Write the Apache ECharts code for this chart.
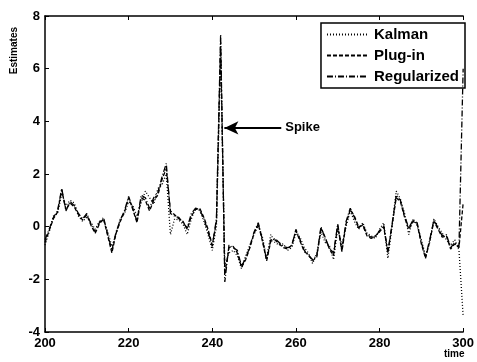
<!DOCTYPE html>
<html>
<head>
<meta charset="utf-8">
<script src="https://cdn.jsdelivr.net/npm/echarts@6/dist/echarts.min.js"></script>
<style>
  html, body { margin: 0; padding: 0; background: #fff; }
  #chart { width: 477px; height: 362px; }
</style>
</head>
<body>
<div id="chart"></div>
<script>
// time steps 200..300
var times = []
for (var t = 200; t <= 300; t++) times.push(t)

var regularized = [
  -0.5, -0.1, 0.35, 0.6, 1.45, 0.6, 0.95, 0.8, 0.5, 0.3,
  0.5, 0.1, -0.2, 0.15, 0.35, -0.3, -0.9, -0.2, 0.25, 0.6,
  1.15, 0.7, 0.2, 1.2, 1.1, 0.7, 1.1, 1.3, 1.9, 2.4,
  0.5, 0.4, 0.35, 0.15, -0.05, 0.5, 0.7, 0.65, 0.3, -0.2,
  -0.75, 0.3, 7.3, -2.1, -0.7, -0.8, -0.9, -1.5, -1.2, -0.75,
  -0.2, 0.15, -0.5, -1.25, -0.5, -0.45, -0.6, -0.75, -0.8, -0.75,
  -0.1, -0.5, -0.9, -1.1, -1.25, -1.1, 0.0, -0.45, -0.8, -1.0,
  0.1, -0.9, 0.2, 0.7, 0.35, -0.05, 0.1, -0.3, -0.4, -0.4,
  -0.15, 0.05, -0.95, 0.1, 1.2, 1.0, 0.4, -0.05, 0.25, 0.15,
  -0.6, -1.15, -0.5, 0.25, -0.05, -0.35, -0.3, -0.8, -0.6, -0.75,
  6.0
]
var plugIn = [
  -0.6, -0.15, 0.3, 0.55, 1.4, 0.65, 0.9, 0.75, 0.45, 0.25,
  0.45, 0.05, -0.25, 0.1, 0.3, -0.35, -1.0, -0.25, 0.2, 0.55,
  1.1, 0.65, 0.15, 1.1, 1.0, 0.6, 1.0, 1.2, 1.8, 2.2,
  0.6, 0.45, 0.3, 0.2, -0.1, 0.4, 0.65, 0.7, 0.35, -0.1,
  -0.7, 0.2, 7.0, -1.8, -0.8, -0.75, -1.0, -1.55, -1.25, -0.8,
  -0.25, 0.1, -0.55, -1.3, -0.55, -0.5, -0.65, -0.8, -0.85, -0.7,
  -0.15, -0.55, -0.95, -1.05, -1.3, -1.15, -0.05, -0.4, -0.85, -1.1,
  0.05, -0.95, 0.1, 0.65, 0.4, 0.0, 0.05, -0.35, -0.45, -0.35,
  -0.2, 0.0, -1.0, 0.05, 1.1, 0.95, 0.35, -0.1, 0.2, 0.1,
  -0.65, -1.2, -0.55, 0.2, -0.1, -0.4, -0.35, -0.85, -0.65, -0.8,
  0.9
]
var kalman = [
  -0.7, -0.2, 0.4, 0.5, 1.25, 0.8, 1.0, 0.9, 0.4, 0.2,
  0.35, 0.15, -0.1, 0.2, 0.25, -0.2, -0.75, -0.3, 0.3, 0.5,
  0.95, 0.8, 0.4, 0.9, 1.35, 1.1, 0.85, 1.45, 1.6, 2.0,
  -0.3, 0.3, 0.25, 0.1, -0.3, 0.3, 0.7, 0.6, 0.2, -0.3,
  -0.9, 0.0, 6.6, -1.5, -1.0, -0.9, -1.1, -1.6, -1.1, -0.7,
  -0.3, 0.05, -0.4, -1.2, -0.3, -0.6, -0.7, -0.65, -0.9, -0.8,
  -0.25, -0.4, -0.8, -1.0, -1.4, -1.0, -0.2, -0.6, -0.7, -1.25,
  -0.1, -0.7, 0.0, 0.6, 0.2, -0.1, 0.15, -0.25, -0.35, -0.45,
  -0.1, 0.15, -1.2, 0.0, 1.35, 1.05, 0.5, -0.3, 0.3, 0.05,
  -0.5, -1.1, -0.6, 0.3, 0.0, -0.25, -0.5, -0.7, -0.5, -0.9,
  -3.4
]

var xTicks = [200, 220, 240, 260, 280, 300]
var yTicks = [-4, -2, 0, 2, 4, 6, 8]
var spikeArrow = { from: [256.5, 3.75], to: [242.9, 3.75], text: 'Spike' }

function pairs (vals) {
  return vals.map(function (v, i) { return [times[i], v] })
}

var chart = echarts.init(document.getElementById('chart'))
var font = 'Liberation Sans'
var axisCommon = {
  type: 'value',
  axisLine: { show: true, onZero: false, lineStyle: { color: '#000', width: 1.5 } },
  axisTick: { show: true, inside: true, length: 4, lineStyle: { color: '#000' } },
  splitLine: { show: false }
}

chart.setOption({
  animation: false,
  backgroundColor: '#fff',
  textStyle: { fontFamily: font },
  grid: { left: 45, right: 11, top: 16, bottom: 30 },
  xAxis: [
    Object.assign({}, axisCommon, {
      min: xTicks[0], max: xTicks[xTicks.length - 1], interval: 20,
      axisLabel: { color: '#000', fontWeight: 'bold', fontSize: 13, margin: 5, fontFamily: font }
    }),
    Object.assign({}, axisCommon, {
      position: 'top',
      min: xTicks[0], max: xTicks[xTicks.length - 1], interval: 20,
      axisLabel: { show: false }
    })
  ],
  yAxis: Object.assign({}, axisCommon, {
    min: yTicks[0], max: yTicks[yTicks.length - 1], interval: 2,
    axisLabel: { color: '#000', fontWeight: 'bold', fontSize: 13, margin: 5, fontFamily: font }
  }),
  legend: {
    orient: 'vertical',
    right: 12,
    top: 23,
    backgroundColor: '#fff',
    borderColor: '#000',
    borderWidth: 1.5,
    padding: [4, 6, 4, 5],
    itemWidth: 40,
    itemHeight: 12,
    itemGap: 6,
    itemStyle: { opacity: 0 },
    textStyle: { color: '#000', fontWeight: 'bold', fontSize: 15, fontFamily: font, padding: [0, 0, 0, 2] },
    data: ['Kalman', 'Plug-in', 'Regularized']
  },
  series: [
    {
      name: 'Kalman',
      type: 'line',
      symbol: 'none',
      data: pairs(kalman),
      lineStyle: { color: '#000', width: 1.3, type: [1, 2] },
      itemStyle: { color: '#000' },
      z: 3
    },
    {
      name: 'Plug-in',
      type: 'line',
      symbol: 'none',
      data: pairs(plugIn),
      lineStyle: { color: '#000', width: 1.3, type: [4, 2] },
      itemStyle: { color: '#000' },
      z: 4
    },
    {
      name: 'Regularized',
      type: 'line',
      symbol: 'none',
      data: pairs(regularized),
      lineStyle: { color: '#000', width: 1.3, type: [6, 2, 1, 2] },
      itemStyle: { color: '#000' },
      z: 5,
      markLine: {
        silent: true,
        symbol: ['none', 'arrow'],
        symbolSize: [10, 14],
        lineStyle: { color: '#000', width: 2, type: 'solid' },
        label: {
          show: true,
          position: 'start',
          formatter: spikeArrow.text,
          color: '#000',
          fontWeight: 'bold',
          fontSize: 13,
          fontFamily: font,
          distance: 4
        },
        data: [[{ coord: spikeArrow.from }, { coord: spikeArrow.to }]]
      }
    }
  ],
  graphic: [
    {
      type: 'text',
      left: 9,
      top: 27,
      rotation: Math.PI / 2,
      style: { text: 'Estimates', fill: '#000', font: 'bold 10px ' + font }
    },
    {
      type: 'text',
      left: 444,
      top: 349,
      style: { text: 'time', fill: '#000', font: 'bold 10px ' + font }
    }
  ]
})
</script>
</body>
</html>
